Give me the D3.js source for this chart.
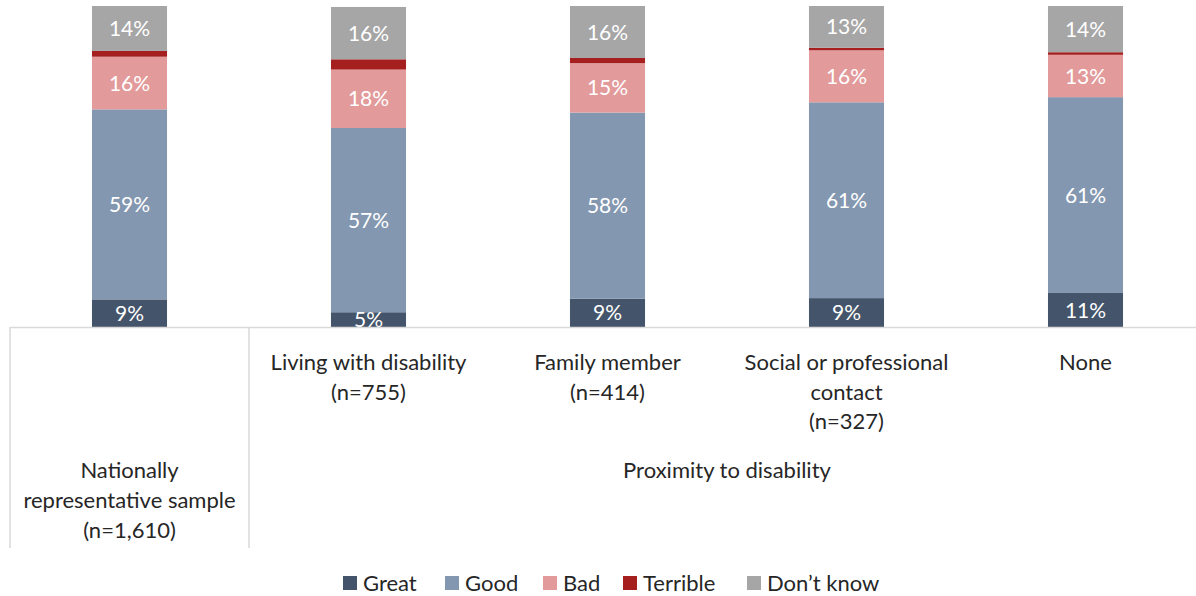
<!DOCTYPE html>
<html><head><meta charset="utf-8">
<script src="https://cdn.jsdelivr.net/npm/d3@7"></script>
<style>html,body{margin:0;padding:0;background:#fff;}svg{display:block;font-family:Lato,"Open Sans",sans-serif;}</style>
</head><body><svg id="c" width="1196" height="596"></svg>
<script>
const categories = ["National","Living","Family","Social","None"];
const categoryLabels = [[], ["Living with disability","(n=755)"], ["Family member","(n=414)"], ["Social or professional","contact","(n=327)"], ["None"]];
const groupLabels = [["Nationally","representative sample","(n=1,610)"], ["Proximity to disability"]];
const groupSpans = [[0,0],[1,4]];
const seriesNames = ["Great","Good","Bad","Terrible","Don\u2019t know"];
const great    = [8.6, 4.6, 8.8, 9.0, 10.6];
const good     = [59.2, 57.4, 58.0, 61.0, 61.0];
const bad      = [16.4, 18.2, 15.4, 16.2, 13.2];
const terrible = [1.8, 3.2, 1.6, 0.8, 0.8];
const dontKnow = [14.0, 16.3, 16.2, 13.0, 14.4];
const colors = ["#44546a","#8497b0","#e39a9b","#a61f1f","#a6a6a6"];

const svg = d3.select("#c");
const x = d3.scaleBand().domain(categories).range([10,1205]).paddingInner(0.686).paddingOuter(0.343);
const y = d3.scaleLinear().domain([0,100]).range([327,6]);

const table = categories.map((c,i)=>({cat:c, Great:great[i], Good:good[i], Bad:bad[i], Terrible:terrible[i], "Don\u2019t know":dontKnow[i]}));
const stacked = d3.stack().keys(seriesNames)(table);

const g = svg.append("g");
stacked.forEach((s,si)=>{
  const layer = g.append("g").attr("fill", colors[si]);
  layer.selectAll("rect").data(s).join("rect")
    .attr("x", d=>x(d.data.cat)).attr("width", x.bandwidth())
    .attr("y", d=>y(d[1])).attr("height", d=>y(d[0])-y(d[1]));
});
stacked.forEach((s,si)=>{
  if (seriesNames[si] !== "Terrible") {
    g.append("g").selectAll("text").data(s).join("text")
      .attr("x", d=>x(d.data.cat)+x.bandwidth()/2)
      .attr("y", d=>(y(d[0])+y(d[1]))/2)
      .attr("dy","0.36em").attr("text-anchor","middle")
      .attr("fill","#fff").attr("font-size",21)
      .text(d=>Math.round(d[1]-d[0])+"%");
  }
});

// axis lines
const axisCol = "#d9d9d9";
svg.append("line").attr("x1",10).attr("x2",1196).attr("y1",327.5).attr("y2",327.5).attr("stroke",axisCol).attr("stroke-width",1.5);
const sepXs = [10, x(categories[0]) + x.bandwidth() + (x.step()-x.bandwidth())/2];
sepXs.forEach(sx=>svg.append("line").attr("x1",sx).attr("x2",sx).attr("y1",327).attr("y2",548).attr("stroke",axisCol).attr("stroke-width",1.5));

// category labels
categoryLabels.forEach((lines,i)=>{
  const t = svg.append("text").attr("text-anchor","middle").attr("font-size",22).attr("fill","#262626");
  lines.forEach((l,j)=>t.append("tspan").attr("x", x(categories[i])+x.bandwidth()/2).attr("y", 370+j*29.5).text(l));
});
// group labels
groupLabels.forEach((lines,gi)=>{
  const a = x(categories[groupSpans[gi][0]]) - (x.step()-x.bandwidth())/2;
  const b = x(categories[groupSpans[gi][1]]) + x.bandwidth() + (x.step()-x.bandwidth())/2;
  const t = svg.append("text").attr("text-anchor","middle").attr("font-size",22).attr("fill","#262626");
  lines.forEach((l,j)=>t.append("tspan").attr("x",(a+b)/2).attr("y",478+j*30).text(l));
});

// legend
const legX = [343, 445, 543, 623, 747];
const leg = svg.append("g");
seriesNames.forEach((n,i)=>{
  leg.append("rect").attr("x",legX[i]).attr("y",576).attr("width",14).attr("height",14).attr("fill",colors[i]);
  leg.append("text").attr("x",legX[i]+20).attr("y",583).attr("dy","0.36em").attr("font-size",22).attr("fill","#262626").text(n);
});
</script></body></html>
